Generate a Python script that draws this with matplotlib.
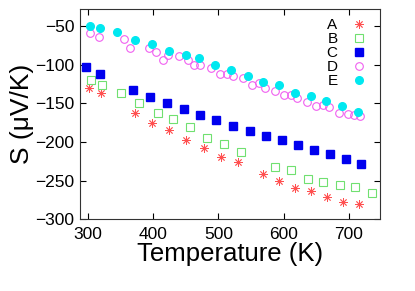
import matplotlib
matplotlib.use("Agg")
import matplotlib.pyplot as plt

plt.rcParams['font.family'] = ['Liberation Sans', 'DejaVu Sans']

# series A (red asterisks)
temp_a = [302, 320, 372, 398, 425, 451, 478, 504, 530, 569, 593, 618, 642, 666, 691, 715]
s_a = [-130, -137, -162, -175, -185, -198, -208, -219, -226, -241, -251, -260, -264, -272, -278, -281]
# series B (green open squares)
temp_b = [305, 322, 351, 379, 408, 431, 457, 482, 508, 535, 587, 612, 637, 661, 686, 710, 735]
s_b = [-120, -127, -137, -150, -162, -171, -181, -195, -203, -213, -232, -236, -248, -252, -256, -258, -266]
# series C (blue squares)
temp_c = [297, 318, 369, 395, 421, 447, 472, 496, 522, 548, 573, 597, 622, 647, 671, 696, 719]
s_c = [-103, -112, -133, -142, -150, -158, -165, -172, -179, -186, -192, -198, -204, -210, -216, -222, -228]
# series D (magenta open circles)
temp_d = [303, 317, 355, 365, 393, 405, 415, 423, 439, 453, 463, 472, 489, 503, 513, 522,
          537, 552, 563, 571, 587, 601, 612, 621, 636, 650, 660, 669, 685, 698, 708, 717]
s_d = [-59, -64, -67, -78, -79, -84, -94, -88, -89, -94, -100, -100, -105, -112, -112, -115,
       -117, -126, -124, -130, -134, -139, -139, -143, -149, -153, -152, -155, -162, -164, -165, -167]
# series E (cyan filled circles)
temp_e = [303, 319, 345, 372, 398, 425, 451, 470, 495, 520, 545, 569, 593, 618, 642, 665, 690, 714]
s_e = [-50, -53, -58, -68, -73, -82, -87, -91, -101, -107, -115, -122, -127, -137, -141, -147, -153, -161]

labels = ['A', 'B', 'C', 'D', 'E']

fig = plt.figure(figsize=(4.15, 2.91), dpi=100)
ax = fig.add_axes([0.193, 0.247, 0.723, 0.722])

ax.plot(temp_a, s_a, linestyle='none', marker=(8, 2, 0), markersize=6, color='#ff5050',
        markeredgewidth=0.6, label=labels[0])
ax.plot(temp_b, s_b, linestyle='none', marker='s', markersize=5.5, markerfacecolor='none',
        markeredgecolor='#70e070', markeredgewidth=0.8, label=labels[1])
ax.plot(temp_c, s_c, linestyle='none', marker='s', markersize=5.5, color='#0000ee',
        label=labels[2])
ax.plot(temp_d, s_d, linestyle='none', marker='o', markersize=5.5, markerfacecolor='none',
        markeredgecolor='#f060f0', markeredgewidth=0.8, label=labels[3])
ax.plot(temp_e, s_e, linestyle='none', marker='o', markersize=5.5, color='#00e8f0',
        label=labels[4])

ax.set_xlim(288, 748)
ax.set_ylim(-300, -28)
ax.set_xticks([300, 400, 500, 600, 700])
ax.set_yticks([-300, -250, -200, -150, -100, -50])
ax.tick_params(direction='in', top=True, right=True, labelsize=12.5, length=4)
ax.tick_params(axis='x', pad=6)
ax.tick_params(axis='y', pad=4)
for sp in ax.spines.values():
    sp.set_color('#333333')

ax.set_xlabel('Temperature (K)', fontsize=18.5, labelpad=0)
ax.set_ylabel('S (\u03bcV/K)', fontsize=19, labelpad=1)

ax.legend(loc='upper right', frameon=False, markerfirst=False, fontsize=11,
          labelspacing=0.0, handlelength=1.0, handletextpad=0.9,
          borderaxespad=0.2, bbox_to_anchor=(0.985, 1.0))

fig.savefig('out.png', dpi=100)
